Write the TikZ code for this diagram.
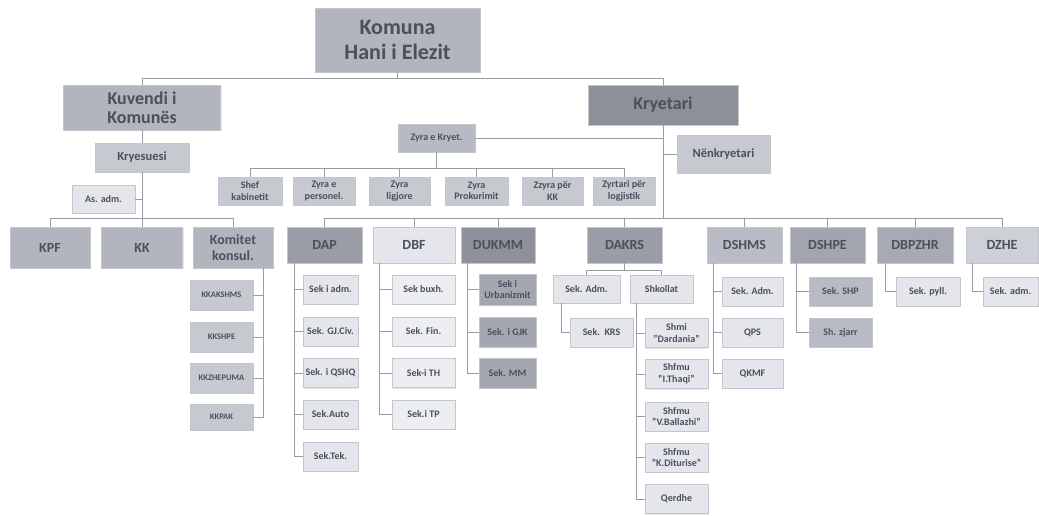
\documentclass[tikz,border=0pt]{standalone}
\usepackage{fontspec}
\setmainfont{Carlito}
\usetikzlibrary{calc,shadows}
\definecolor{txt}{HTML}{4B505C}
\definecolor{linec}{HTML}{9A9CA4}
\definecolor{bordc}{HTML}{C4C6CD}
\definecolor{cTop}{HTML}{B2B5BE}
\definecolor{cKry}{HTML}{8D9099}
\definecolor{cMid}{HTML}{C6C9D0}
\definecolor{cLt}{HTML}{E4E6EB}
\definecolor{cZy}{HTML}{B7BAC2}
\definecolor{cDk}{HTML}{9A9DA6}
\definecolor{cDkr}{HTML}{8E9199}
\definecolor{cUk}{HTML}{A4A7B0}
\definecolor{cVlt}{HTML}{ECEEF2}
\definecolor{cSh}{HTML}{B9BCC4}
\definecolor{cPe}{HTML}{A2A5AE}
\definecolor{cPeC}{HTML}{B8BBC3}
\definecolor{cBp}{HTML}{A7AAB3}
\definecolor{cZh}{HTML}{CDD0D7}
\begin{document}
\begin{tikzpicture}[x=1pt,y=-1pt,
  box/.style={rectangle, inner sep=1pt, align=center, text=txt, draw=bordc, line width=0.5pt,
    drop shadow={shadow xshift=1.2pt, shadow yshift=-1.2pt, fill=black!18}},
  sz/.style 2 args={minimum width=#1pt, minimum height=#2pt},
  fA/.style={font=\bfseries\fontsize{22}{25}\selectfont},
  fB/.style={font=\bfseries\fontsize{18}{19.5}\selectfont},
  fC/.style={font=\bfseries\fontsize{14}{15.5}\selectfont},
  fD/.style={font=\bfseries\fontsize{12.5}{13.5}\selectfont},
  fE/.style={font=\bfseries\fontsize{10}{11.5}\selectfont},
  fF/.style={font=\bfseries\fontsize{8.5}{10}\selectfont},
  ln/.style={draw=linec, line width=0.8pt}]
\useasboundingbox (0,0) rectangle (1039,515);
\fill[white] (0,0) rectangle (1039,515);

\coordinate (topbus) at (0,78);
\coordinate (leftbus) at (0,218);
\coordinate (mainbus) at (0,218);
\coordinate (zbus) at (0,168);
\coordinate (dbus) at (0,270);

% top level
\node[box, fill=cTop, sz={165}{64}, fA] (komuna) at (397.5,40) {Komuna\\Hani i Elezit};
\node[box, fill=cTop, sz={157}{45}, fB] (kuvendi) at (142,107.5) {Kuvendi i\\Komunës};
\node[box, fill=cMid, sz={94}{29}, fD] (kryesuesi) at (142,157.5) {Kryesuesi};
\node[box, fill=cLt, sz={63}{28}, fE] (asadm) at (103.5,199) {As. adm.};
\node[box, fill=cKry, sz={150}{40}, fB] (kryetari) at (663,105) {Kryetari};
\node[box, fill=cMid, sz={93}{38}, fD] (nenk) at (723.5,154) {Nënkryetari};
\node[box, fill=cZy, sz={77}{28}, fE] (zyrak) at (436.5,138) {Zyra e Kryet.};

\node[box, fill=cMid, sz={64}{28}, fE] (shef) at (250,191) {Shef\\kabinetit};
\node[box, fill=cMid, sz={62}{28}, fE] (zpers) at (324,191) {Zyra e\\personel.};
\node[box, fill=cMid, sz={61}{28}, fE] (zlig) at (399.5,191) {Zyra\\ligjore};
\node[box, fill=cMid, sz={63}{28}, fE] (zprok) at (476.5,191) {Zyra\\Prokurimit};
\node[box, fill=cMid, sz={61}{28}, fE] (zkk) at (552.5,191) {Zzyra për\\KK};
\node[box, fill=cMid, sz={62}{28}, fE] (zlog) at (624,191) {Zyrtari për\\logjistik};

% left group
\node[box, fill=cTop, sz={80}{41}, fC] (kpf) at (50,247.5) {KPF};
\node[box, fill=cTop, sz={81}{41}, fC] (kk) at (142,247.5) {KK};
\node[box, fill=cTop, sz={80}{41}, fC] (komitet) at (233,247.5) {Komitet\\konsul.};
\node[box, fill=cMid, sz={63}{30}, fF] (kk1) at (221.5,295) {KKAKSHMS};
\node[box, fill=cMid, sz={63}{30}, fF] (kk2) at (221.5,337) {KKSHPE};
\node[box, fill=cMid, sz={63}{30}, fF] (kk3) at (221.5,378) {KKZHEPUMA};
\node[box, fill=cMid, sz={63}{26}, fF] (kk4) at (221.5,417) {KKPAK};

% departments
\node[box, fill=cDk, sz={75}{36}, fC] (dap) at (324.5,245) {DAP};
\node[box, fill=cLt, sz={82}{36}, fC] (dbf) at (414,245) {DBF};
\node[box, fill=cDkr, sz={74}{36}, fC] (dukmm) at (498,245) {DUKMM};
\node[box, fill=cDk, sz={75}{36}, fC] (dakrs) at (624.5,245) {DAKRS};
\node[box, fill=cSh, sz={75}{36}, fC] (dshms) at (744.5,245) {DSHMS};
\node[box, fill=cPe, sz={75}{36}, fC] (dshpe) at (827.5,245) {DSHPE};
\node[box, fill=cBp, sz={76}{36}, fC] (dbpzhr) at (915,245) {DBPZHR};
\node[box, fill=cZh, sz={72}{36}, fC] (dzhe) at (1002,245) {DZHE};

% DAP children
\node[box, fill=cLt, sz={55}{29}, fE] (dap1) at (330.5,289.5) {Sek i adm.};
\node[box, fill=cLt, sz={55}{29}, fE] (dap2) at (330.5,331.5) {Sek. GJ.Civ.};
\node[box, fill=cLt, sz={55}{29}, fE] (dap3) at (330.5,373) {Sek. i QSHQ};
\node[box, fill=cLt, sz={55}{29}, fE] (dap4) at (330.5,414.5) {Sek.Auto};
\node[box, fill=cLt, sz={55}{29}, fE] (dap5) at (330.5,456.5) {Sek.Tek.};
% DBF children
\node[box, fill=cVlt, sz={63}{29}, fE] (dbf1) at (423.5,289.5) {Sek buxh.};
\node[box, fill=cVlt, sz={63}{29}, fE] (dbf2) at (423.5,331.5) {Sek. Fin.};
\node[box, fill=cVlt, sz={63}{29}, fE] (dbf3) at (423.5,373) {Sek-i TH};
\node[box, fill=cVlt, sz={63}{29}, fE] (dbf4) at (423.5,414.5) {Sek.i TP};
% DUKMM children
\node[box, fill=cUk, sz={57}{31}, fE] (uk1) at (507.5,289.5) {Sek i\\Urbanizmit};
\node[box, fill=cUk, sz={57}{30}, fE] (uk2) at (507.5,332) {Sek. i GJK};
\node[box, fill=cUk, sz={57}{30}, fE] (uk3) at (507.5,373) {Sek. MM};
% DAKRS children
\node[box, fill=cLt, sz={67}{28}, fE] (dkadm) at (586.5,289) {Sek. Adm.};
\node[box, fill=cLt, sz={63}{28}, fE] (shk) at (661.5,289) {Shkollat};
\node[box, fill=cLt, sz={63}{29}, fE] (krs) at (601.5,332.5) {Sek.\ \ KRS};
\node[box, fill=cLt, sz={63}{29}, fE] (sh1) at (676.5,333) {Shmi\\"Dardania"};
\node[box, fill=cLt, sz={63}{29}, fE] (sh2) at (676.5,374) {Shfmu\\"I.Thaqi"};
\node[box, fill=cLt, sz={63}{29}, fE] (sh3) at (676.5,416.5) {Shfmu\\"V.Ballazhi"};
\node[box, fill=cLt, sz={63}{29}, fE] (sh4) at (676.5,457.5) {Shfmu\\"K.Diturise"};
\node[box, fill=cLt, sz={63}{29}, fE] (sh5) at (676.5,499) {Qerdhe};
% DSHMS children
\node[box, fill=cLt, sz={61}{29}, fE] (ms1) at (752.5,291.5) {Sek. Adm.};
\node[box, fill=cLt, sz={61}{29}, fE] (ms2) at (752.5,332.5) {QPS};
\node[box, fill=cLt, sz={61}{29}, fE] (ms3) at (752.5,373.5) {QKMF};
% DSHPE children
\node[box, fill=cPeC, sz={63}{29}, fE] (pe1) at (840.5,291.5) {Sek. SHP};
\node[box, fill=cPeC, sz={63}{29}, fE] (pe2) at (840.5,332.5) {Sh. zjarr};
% DBPZHR, DZHE children
\node[box, fill=cLt, sz={64}{29}, fE] (bp1) at (928,291.5) {Sek. pyll.};
\node[box, fill=cLt, sz={55}{29}, fE] (zh1) at (1010.5,291.5) {Sek. adm.};

% connectors: top
\draw[ln] (komuna.south) -- (komuna.south |- topbus);
\draw[ln] (kuvendi.north) -- (kuvendi.north |- topbus) -| (kryetari.north);
\draw[ln] (kuvendi.south) -- (kryesuesi.north);
\draw[ln] (kryesuesi.south) -- (kryesuesi.south |- leftbus);
\draw[ln] (asadm.east) -- (asadm.east -| kryesuesi.south);
\draw[ln] (kpf.north) -- (kpf.north |- leftbus) -| (komitet.north);
\draw[ln] (kk.north) -- (kk.north |- leftbus);
\draw[ln] (kryetari.south) -- (kryetari.south |- mainbus);
\draw[ln] (nenk.west) -- (nenk.west -| kryetari.south);
\draw[ln] (zyrak.east) -- (zyrak.east -| kryetari.south);
\draw[ln] (zyrak.south) -- (zyrak.south |- zbus);
\draw[ln] (shef.north) -- (shef.north |- zbus) -| (zlog.north);
\foreach \n in {zpers,zlig,zprok,zkk} \draw[ln] (\n.north) -- (\n.north |- zbus);

% main bus
\draw[ln] (dap.north) -- (dap.north |- mainbus) -| (dzhe.north);
\foreach \n in {dbf,dukmm,dakrs,dshms,dshpe,dbpzhr} \draw[ln] (\n.north) -- (\n.north |- mainbus);

% komitet children
\foreach \n in {kk1,kk2,kk3,kk4} \draw[ln] ([xshift=-10pt]komitet.south east) |- (\n.east);
% department children
\foreach \n in {dap1,dap2,dap3,dap4,dap5} \draw[ln] ([xshift=8pt]dap.south west) |- (\n.west);
\foreach \n in {dbf1,dbf2,dbf3,dbf4} \draw[ln] ([xshift=7pt]dbf.south west) |- (\n.west);
\foreach \n in {uk1,uk2,uk3} \draw[ln] ([xshift=7pt]dukmm.south west) |- (\n.west);
\draw[ln] (dakrs.south) -- (dakrs.south |- dbus);
\draw[ln] (dkadm.north) -- (dkadm.north |- dbus) -| (shk.north);
\draw[ln] ([xshift=9pt]dkadm.south west) |- (krs.west);
\foreach \n in {sh1,sh2,sh3,sh4,sh5} \draw[ln] ([xshift=7pt]shk.south west) |- (\n.west);
\foreach \n in {ms1,ms2,ms3} \draw[ln] ([xshift=7pt]dshms.south west) |- (\n.west);
\foreach \n in {pe1,pe2} \draw[ln] ([xshift=7pt]dshpe.south west) |- (\n.west);
\draw[ln] ([xshift=9pt]dbpzhr.south west) |- (bp1.west);
\draw[ln] ([xshift=7pt]dzhe.south west) |- (zh1.west);
\end{tikzpicture}
\end{document}
